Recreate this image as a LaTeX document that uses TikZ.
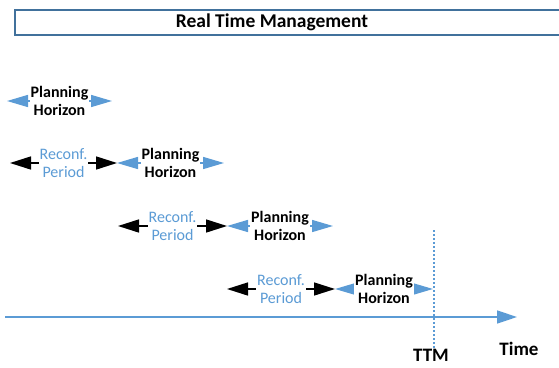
\documentclass[tikz,border=0pt]{standalone}
\usepackage{fontspec}
\setmainfont{Carlito}
\usetikzlibrary{arrows.meta,calc}
\definecolor{ttmblue}{RGB}{91,155,213}
\definecolor{boxblue}{RGB}{65,113,156}

\begin{document}
\begin{tikzpicture}[x=1pt,y=-1pt,
    lbl/.style={fill=white,align=center,inner sep=1pt,font=\fontsize{16}{18}\selectfont},
    phlabel/.style={lbl,font=\fontsize{16}{18}\selectfont\bfseries},
    rplabel/.style={lbl,text=ttmblue},
    biglabel/.style={font=\fontsize{19}{21}\selectfont\bfseries,inner sep=0pt},
    pharrow/.style={ttmblue,line width=1.5pt,{Triangle[length=21pt,width=12pt]}-{Triangle[length=21pt,width=12pt]}},
    rparrow/.style={black,line width=1.5pt,{Triangle[length=21pt,width=13pt]}-{Triangle[length=21pt,width=13pt]}}]
  \useasboundingbox (0,0) rectangle (559,367);

  % title bar
  \draw[boxblue,line width=1.5pt] (15,10) rectangle (565,35);
  \node[biglabel,font=\fontsize{19.5}{21}\selectfont\bfseries] (title) at (272,22.5) {Real Time Management};

  % row 1
  \coordinate (a1) at (7,101);
  \coordinate (b1) at (112,101);
  \draw[pharrow] (a1) -- (b1);
  \node[phlabel] (ph1) at ($(a1)!0.5!(b1)$) {Planning\\Horizon};

  % row 2
  \coordinate (r2) at (10,163);
  \coordinate (a2) at (117,163);
  \coordinate (b2) at (224,163);
  \draw[rparrow] (r2) -- (a2);
  \draw[pharrow] (a2) -- (b2);
  \node[rplabel] (rp2) at ($(r2)!0.5!(a2)$) {Reconf.\\Period};
  \node[phlabel] (ph2) at ($(a2)!0.5!(b2)$) {Planning\\Horizon};

  % row 3
  \coordinate (r3) at (118,226);
  \coordinate (a3) at (227,226);
  \coordinate (b3) at (333,226);
  \draw[rparrow] (r3) -- (a3);
  \draw[pharrow] (a3) -- (b3);
  \node[rplabel] (rp3) at ($(r3)!0.5!(a3)$) {Reconf.\\Period};
  \node[phlabel] (ph3) at ($(a3)!0.5!(b3)$) {Planning\\Horizon};

  % row 4
  \coordinate (r4) at (227,289);
  \coordinate (a4) at (335,289);
  \coordinate (b4) at (433,289);
  \draw[rparrow] (r4) -- (a4);
  \draw[pharrow] (a4) -- (b4);
  \node[rplabel] (rp4) at ($(r4)!0.5!(a4)$) {Reconf.\\Period};
  \node[phlabel] (ph4) at ($(a4)!0.5!(b4)$) {Planning\\Horizon};

  % time axis
  \coordinate (t0) at (5,317);
  \coordinate (t1) at (517,317);
  \draw[ttmblue,line width=1.5pt,-{Triangle[length=20pt,width=13pt]}] (t0) -- (t1);
  \node[biglabel] (time) at (519,349) {Time};

  % TTM marker
  \coordinate (m0) at (434,230);
  \coordinate (m1) at (434,350);
  \draw[ttmblue,line width=1.2pt,dash pattern=on 2pt off 2pt] (m0) -- (m1);
  \node[biglabel,anchor=base] (ttm) at (431,361) {TTM};
\end{tikzpicture}
\end{document}
